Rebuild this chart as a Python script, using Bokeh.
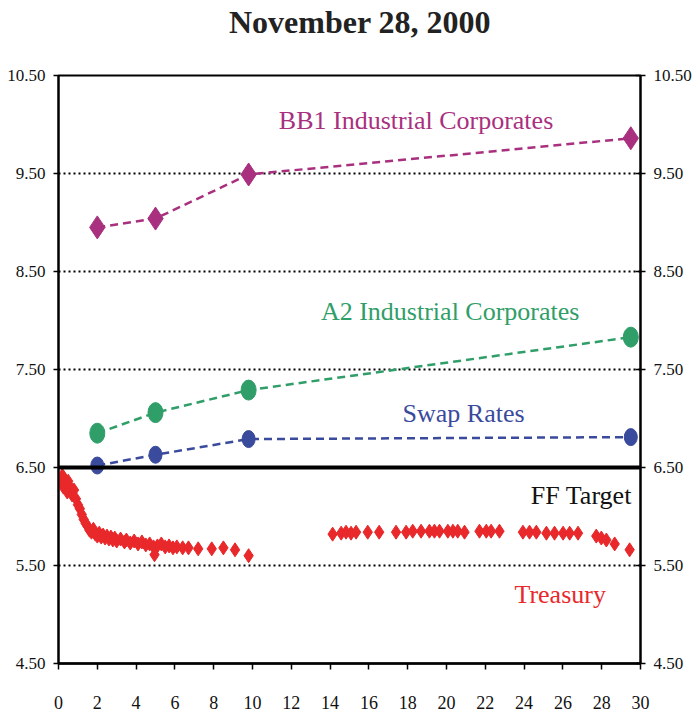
from bokeh.plotting import figure
from bokeh.layouts import column
from bokeh.models import Range1d, LinearAxis, FixedTicker, Span, ColumnDataSource, NumeralTickFormatter, Div
from bokeh.core.properties import value
from bokeh.embed import file_html
from bokeh.resources import INLINE

title_text = "November 28, 2000"
y_ticks = [4.5, 5.5, 6.5, 7.5, 8.5, 9.5, 10.5]
x_ticks = list(range(0, 31, 2))

corp_x = [2, 5, 9.8, 29.5]
bb1_y = [8.95, 9.04, 9.49, 9.86]
a2_y = [6.85, 7.06, 7.29, 7.83]
swap_y = [6.52, 6.63, 6.79, 6.81]
ff_target = 6.5

tsy_x = [0.1, 0.2, 0.25, 0.3, 0.4, 0.45, 0.5, 0.6, 0.7, 0.8, 0.9, 1.0, 1.1, 1.2, 1.3,
         1.4, 1.5, 1.6, 1.7, 1.8, 1.9, 2.0, 2.1, 2.2, 2.3, 2.4, 2.5, 2.6, 2.7, 2.8,
         2.9, 3.0, 3.2, 3.4, 3.5, 3.7, 3.9, 4.1, 4.3, 4.5, 4.7, 4.9, 4.95, 5.1, 5.3,
         5.5, 5.7, 5.9, 6.1, 6.4, 6.7, 7.2, 7.9, 8.5, 9.1, 9.8,
         14.13, 14.57, 14.82, 15.08, 15.34, 15.94, 16.53, 17.40, 17.92, 18.26, 18.69,
         19.12, 19.38, 19.64, 20.07, 20.33, 20.58, 20.93, 21.70, 22.05, 22.30, 22.73,
         23.94, 24.28, 24.63, 25.15, 25.57, 26.01, 26.35, 26.78, 27.72, 27.98, 28.24,
         28.67, 29.44]
tsy_y = [6.35, 6.42, 6.30, 6.38, 6.33, 6.25, 6.36, 6.30, 6.22, 6.27, 6.18, 6.12, 6.08, 6.02, 5.97,
         5.93, 5.90, 5.86, 5.84, 5.87, 5.82, 5.80, 5.83, 5.79, 5.81, 5.78, 5.80, 5.77, 5.79, 5.76,
         5.78, 5.75, 5.77, 5.74, 5.76, 5.73, 5.75, 5.72, 5.74, 5.71, 5.72, 5.69, 5.61, 5.70, 5.72,
         5.69, 5.70, 5.68, 5.69, 5.68, 5.68, 5.67, 5.67, 5.68, 5.66, 5.60,
         5.82, 5.83, 5.84, 5.83, 5.84, 5.84, 5.84, 5.84, 5.84, 5.85, 5.85,
         5.85, 5.85, 5.85, 5.85, 5.85, 5.85, 5.84, 5.85, 5.85, 5.85, 5.85,
         5.84, 5.84, 5.84, 5.83, 5.83, 5.83, 5.83, 5.83, 5.80, 5.78, 5.76,
         5.72, 5.66]

label_text = ["BB1 Industrial Corporates", "A2 Industrial Corporates", "Swap Rates", "FF Target", "Treasury"]
label_x = [18.43, 20.19, 20.88, 26.95, 25.86]
label_y = [10.04, 8.09, 7.05, 6.21, 5.20]

BB1_C = "#a8307f"
A2_C = "#2f9e68"
SWAP_C = "#3a4a9c"
TSY_C = "#e8282a"
label_colors = [BB1_C, A2_C, SWAP_C, "#111111", TSY_C]

title_div = Div(text="<b>%s</b>" % title_text, width=694, height=44, margin=0,
                styles={"font-family": "Liberation Serif", "font-size": "32px",
                        "color": "#222222", "text-align": "left", "padding-left": "229px",
                        "line-height": "44px", "white-space": "nowrap"})

p = figure(width=694, height=671,
           x_range=Range1d(0, 30), y_range=Range1d(4.5, 10.5),
           output_backend="svg", toolbar_location=None,
           min_border_left=58, min_border_right=54, min_border_top=31, min_border_bottom=52,
           background_fill_color="white", border_fill_color="white", margin=0)

p.outline_line_color = "black"
p.outline_line_width = 2

tick_font = "Liberation Serif"

# axes
p.xgrid.visible = False
p.ygrid.ticker = FixedTicker(ticks=y_ticks)
p.ygrid.grid_line_color = "black"
p.ygrid.grid_line_dash = "2 3"
p.ygrid.grid_line_width = 2

xa = p.xaxis[0]
xa.ticker = FixedTicker(ticks=x_ticks)
xa.axis_line_width = 2.5
xa.major_tick_in = 0
xa.major_tick_out = 6
xa.major_tick_line_width = 1.5
xa.minor_tick_line_color = None
xa.major_label_standoff = 26
xa.major_label_text_font = tick_font
xa.major_label_text_font_size = "18px"
xa.major_label_text_color = "#111111"

ya = p.yaxis[0]
ya.ticker = FixedTicker(ticks=y_ticks)
ya.formatter = NumeralTickFormatter(format="0.00")
ya.axis_line_width = 2
ya.major_tick_in = 0
ya.major_tick_out = 5
ya.major_tick_line_width = 1.5
ya.minor_tick_line_color = None
ya.major_label_standoff = 8
ya.major_label_text_font = tick_font
ya.major_label_text_font_size = "17px"
ya.major_label_text_color = "#111111"

ra = LinearAxis(ticker=FixedTicker(ticks=y_ticks), formatter=NumeralTickFormatter(format="0.00"))
ra.axis_line_width = 2
ra.major_tick_in = 5
ra.major_tick_out = 5
ra.major_tick_line_width = 1.5
ra.minor_tick_line_color = None
ra.major_label_standoff = 8
ra.major_label_text_font = tick_font
ra.major_label_text_font_size = "17px"
ra.major_label_text_color = "#111111"
p.add_layout(ra, "right")

# FF target
p.add_layout(Span(location=ff_target, dimension="width", line_color="black", line_width=4))

# series
p.line(corp_x, bb1_y, line_color=BB1_C, line_width=2.5, line_dash="8 5")
p.scatter(corp_x, bb1_y, marker="diamond", size=23, fill_color=BB1_C, line_color=BB1_C)

p.line(corp_x, a2_y, line_color=A2_C, line_width=2.5, line_dash="8 5")
p.ellipse(corp_x, a2_y, width=15, height=20, width_units="screen", height_units="screen",
          fill_color=A2_C, line_color=A2_C)

p.line(corp_x, swap_y, line_color=SWAP_C, line_width=2.5, line_dash="8 5")
p.ellipse(corp_x, swap_y, width=13, height=17, width_units="screen", height_units="screen",
          fill_color=SWAP_C, line_color=SWAP_C)

p.scatter(tsy_x, tsy_y, marker="diamond", size=14, fill_color=TSY_C, line_color=TSY_C)

src = ColumnDataSource(dict(x=label_x, y=label_y, t=label_text, c=label_colors))
p.text(x="x", y="y", text="t", text_color="c", source=src,
       text_font=value("Liberation Serif"), text_font_size="26px",
       text_align="center", text_baseline="middle")

layout = column(title_div, p, spacing=0)
open("out.html", "w").write(file_html(layout, INLINE))
